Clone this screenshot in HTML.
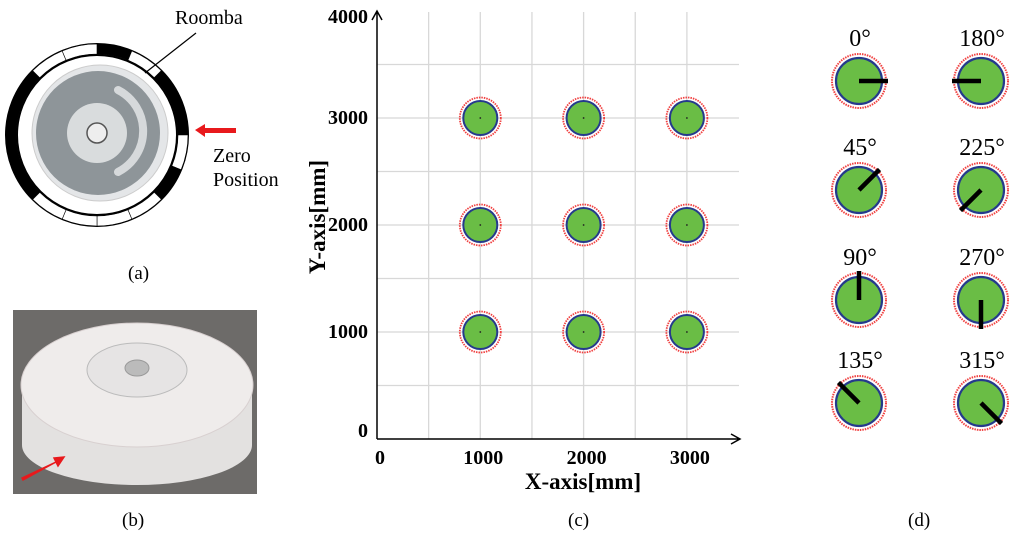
<!DOCTYPE html>
<html><head><meta charset="utf-8"><style>
html,body{margin:0;padding:0;background:#fff;}
svg{display:block;font-family:"Liberation Serif",serif;}
</style></head><body>
<svg id="fig" width="1024" height="534" viewBox="0 0 1024 534" xmlns="http://www.w3.org/2000/svg">
<!-- Panel (a) -->
<g>
  <circle cx="97" cy="135" r="91" fill="#fff" stroke="#000" stroke-width="2"/>
  <g id="ringSegs"></g>
  <circle cx="97" cy="135" r="80" fill="#fff" stroke="#000" stroke-width="2"/>
  <circle cx="100" cy="133" r="68" fill="#e4e6e8" stroke="#ccc"/>
  <circle cx="98" cy="133" r="62" fill="#8e9599"/>
  <path d="M118 90 A46 46 0 0 1 118 172" fill="none" stroke="#d6d9db" stroke-width="8" stroke-linecap="round"/>
  <circle cx="97" cy="133" r="30" fill="#d9dcdd"/>
  <circle cx="97" cy="133" r="10" fill="#eee" stroke="#555" stroke-width="1.5"/>
  <line x1="145" y1="73" x2="196" y2="33" stroke="#000" stroke-width="1.2"/>
  <text x="175" y="24" font-size="20">Roomba</text>
  <polygon points="195,130 205,124 205,128 236,128 236,133 205,133 205,137" fill="#e8191c"/>
  <text x="213" y="162" font-size="20">Zero</text>
  <text x="213" y="186" font-size="20">Position</text>
  <text x="128" y="279" font-size="19">(a)</text>
</g>
<!-- Panel (b) -->
<g>
  <rect x="13" y="310" width="244" height="184" fill="#6d6b69"/>
  <ellipse cx="137" cy="445" rx="115" ry="40" fill="#e3e1e0"/>
  <rect x="22" y="390" width="230" height="55" fill="#e3e1e0"/>
  <ellipse cx="137" cy="385" rx="116" ry="62" fill="#efeceb" stroke="#d8d0d0"/>
  <ellipse cx="137" cy="370" rx="50" ry="27" fill="#e6e4e4" stroke="#bbb"/>
  <ellipse cx="137" cy="368" rx="12" ry="8" fill="#bbb" stroke="#999"/>
  <polygon points="22,478 56,462 54,458 64,457 58,466 56,462 23,480" fill="#e8191c" stroke="#e8191c" stroke-width="1.5"/>
  <text x="122" y="526" font-size="19">(b)</text>
</g>
<!-- Panel (c) chart -->
<g id="chart"></g>
<text x="568" y="526" font-size="19">(c)</text>
<!-- Panel (d) -->
<g id="orient"></g>
<text x="908" y="526" font-size="19">(d)</text>
</svg>
<script>
const NS="http://www.w3.org/2000/svg";
const xTicks=[0,1000,2000,3000];
const yTicks=[0,1000,2000,3000,4000];
const targetX=[1000,2000,3000,1000,2000,3000,1000,2000,3000];
const targetY=[3000,3000,3000,2000,2000,2000,1000,1000,1000];
const angles=[0,180,45,225,90,270,135,315];
const angleLabels=["0°","180°","45°","225°","90°","270°","135°","315°"];

function mk(tag,attrs,parent){const e=document.createElementNS(NS,tag);for(const k in attrs)e.setAttribute(k,attrs[k]);parent.appendChild(e);return e;}

const ring=document.getElementById('ringSegs');
const segBlack=[1,0,1,1,0,1,0,0,0,0,1,1,1,1,0,0];
for(let i=0;i<16;i++){
  const a0=(-90+i*22.5)*Math.PI/180,a1=(-90+(i+1)*22.5)*Math.PI/180;
  const R=91,r=81,cx=97,cy=135;
  const d=`M${cx+R*Math.cos(a0)} ${cy+R*Math.sin(a0)} A${R} ${R} 0 0 1 ${cx+R*Math.cos(a1)} ${cy+R*Math.sin(a1)} L${cx+r*Math.cos(a1)} ${cy+r*Math.sin(a1)} A${r} ${r} 0 0 0 ${cx+r*Math.cos(a0)} ${cy+r*Math.sin(a0)}Z`;
  const p=mk('path',{d:d,fill:segBlack[i]?'#000':'#fff',stroke:'#000','stroke-width':0.6},ring);
  
  
}

const g=document.getElementById('chart');
const X0=377,PX=0.1033,Y0=439,PY=0.107;
const sx=v=>X0+v*PX, sy=v=>Y0-v*PY;
for(let v=500;v<=3000;v+=500){const l=mk('line',{x1:sx(v),x2:sx(v),y1:12,y2:439,stroke:'#d8d8d8','stroke-width':1.3},g);}
for(let v=500;v<=3500;v+=500){const l=mk('line',{x1:377,x2:739,y1:sy(v),y2:sy(v),stroke:'#d8d8d8','stroke-width':1.3},g);}
const ax=mk('path',{d:'M377 439 L377 12 M372 20 L377 11 L382 20 M377 439 L740 439 M731 434 L740 439 L731 444',fill:'none',stroke:'#000','stroke-width':1.5},g);

xTicks.forEach(v=>{const t=mk('text',{x:sx(v)+3,y:464,'font-size':20,'font-weight':'bold','text-anchor':'middle'},g);t.textContent=v;});
yTicks.forEach(v=>{const t=mk('text',{x:368,y:sy(v)-(v===0?8:v===4000?-6:0)+6,'font-size':20,'font-weight':'bold','text-anchor':'end'},g);t.textContent=v;});
let t=mk('text',{x:583,y:489,'font-size':23,'font-weight':'bold','text-anchor':'middle'},g);t.textContent='X-axis[mm]';
t=mk('text',{x:0,y:0,'font-size':23,'font-weight':'bold','text-anchor':'middle',transform:'translate(325,217) rotate(-90)'},g);t.textContent='Y-axis[mm]';
for(let i=0;i<targetX.length;i++){
  const cx=sx(targetX[i]),cy=sy(targetY[i]);
  const c1=mk('circle',{cx:cx,cy:cy,r:20.5,fill:'none',stroke:'#f04040','stroke-width':1.8,'stroke-dasharray':'1.5 1'},g);
  
  const c2=mk('circle',{cx:cx,cy:cy,r:17,fill:'#6abd45',stroke:'#253a8c','stroke-width':2},g);
  
  const c3=mk('circle',{cx:cx,cy:cy,r:0.9,fill:'#222'},g);
  
}

const o=document.getElementById('orient');
const colX=[859,981],rowY=[81,190,300,403];
angles.forEach((a,i)=>{
  const cx=colX[i%2],cy=rowY[Math.floor(i/2)];
  const lbl=mk('text',{x:cx+1,y:cy-35,'font-size':24,'text-anchor':'middle'},o);lbl.textContent=angleLabels[i];
  
  const r1=mk('circle',{cx:cx,cy:cy,r:27,fill:'none',stroke:'#f04040','stroke-width':2,'stroke-dasharray':'1.5 1'},o);
  
  const r2=mk('circle',{cx:cx,cy:cy,r:23,fill:'#6abd45',stroke:'#253a8c','stroke-width':2.2},o);
  
  const rad=a*Math.PI/180;
  const ln=mk('line',{x1:cx,y1:cy,x2:cx+29*Math.cos(rad),y2:cy-29*Math.sin(rad),stroke:'#000','stroke-width':4.5},o);
  
});
</script>
</body></html>
